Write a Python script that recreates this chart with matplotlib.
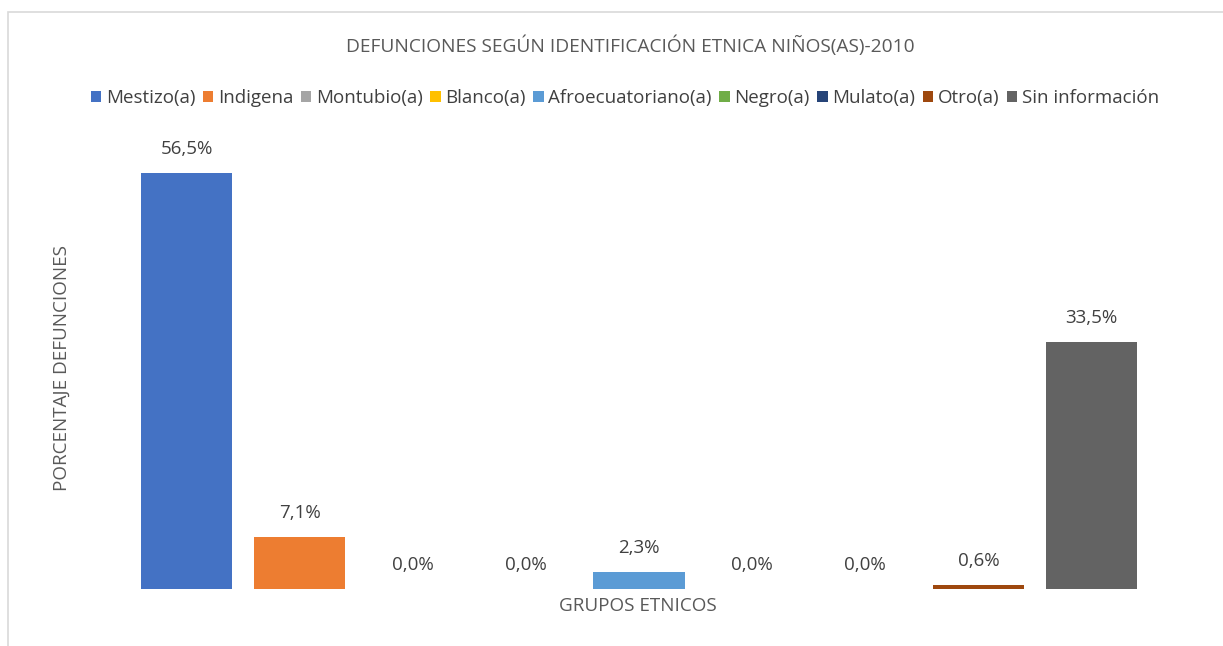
import matplotlib
matplotlib.use('Agg')
import matplotlib.pyplot as plt
from matplotlib.patches import Rectangle, Patch

plt.rcParams['font.family'] = ['Open Sans', 'DejaVu Sans']

grupos = ['Mestizo(a)', 'Indigena', 'Montubio(a)', 'Blanco(a)', 'Afroecuatoriano(a)',
          'Negro(a)', 'Mulato(a)', 'Otro(a)', 'Sin información']
porcentajes = [56.5, 7.1, 0.0, 0.0, 2.3, 0.0, 0.0, 0.6, 33.5]
colores = ['#4472C4', '#ED7D31', '#A5A5A5', '#FFC000', '#5B9BD5',
           '#70AD47', '#264478', '#9E480E', '#636363']

W, H = 1223, 646
fig = plt.figure(figsize=(W / 100, H / 100), dpi=100)

# chart border (cut off at right and bottom like the screenshot)
fig.patches.append(Rectangle((8 / W, -0.1), 1.2, 1 - 12 / H + 0.1, transform=fig.transFigure,
                             fill=False, edgecolor='#d9d9d9', linewidth=1.2))

ax = fig.add_axes([130 / W, 57 / H, 1018 / W, 441.6 / H])
x = list(range(len(grupos)))
ax.bar(x, porcentajes, width=0.805, color=colores)
ax.set_xlim(-0.5, len(grupos) - 0.5)
ax.set_ylim(0, 60)

for i, v in enumerate(porcentajes):
    ax.annotate(f'{v:.1f}%'.replace('.', ','), (i, v), xytext=(0, 24 * 0.72),
                textcoords='offset points', ha='center', va='center',
                fontsize=13.5, color='#404040')

for s in ax.spines.values():
    s.set_visible(False)
ax.set_xticks([])
ax.set_yticks([])

fig.text(638 / W, 1 - 606 / H, 'GRUPOS ETNICOS', ha='center', va='center',
         fontsize=13.6, color='#595959')
fig.text(62 / W, 1 - 368 / H, 'PORCENTAJE DEFUNCIONES', rotation=90, ha='center',
         va='center', fontsize=13.6, color='#595959')
fig.text(630 / W, 1 - 46 / H, 'DEFUNCIONES SEGÚN IDENTIFICACIÓN ETNICA NIÑOS(AS)-2010',
         ha='center', va='center', fontsize=13.8, color='#595959')

handles = [Patch(facecolor=c, edgecolor='none') for c in colores]
fig.legend(handles, grupos, loc='center', bbox_to_anchor=(625 / W, 1 - 98 / H), ncol=9,
           frameon=False, fontsize=13.5, handlelength=0.55, handleheight=0.55,
           handletextpad=0.25, columnspacing=0.4, labelcolor='#404040')

fig.savefig('out.png', dpi=100)
